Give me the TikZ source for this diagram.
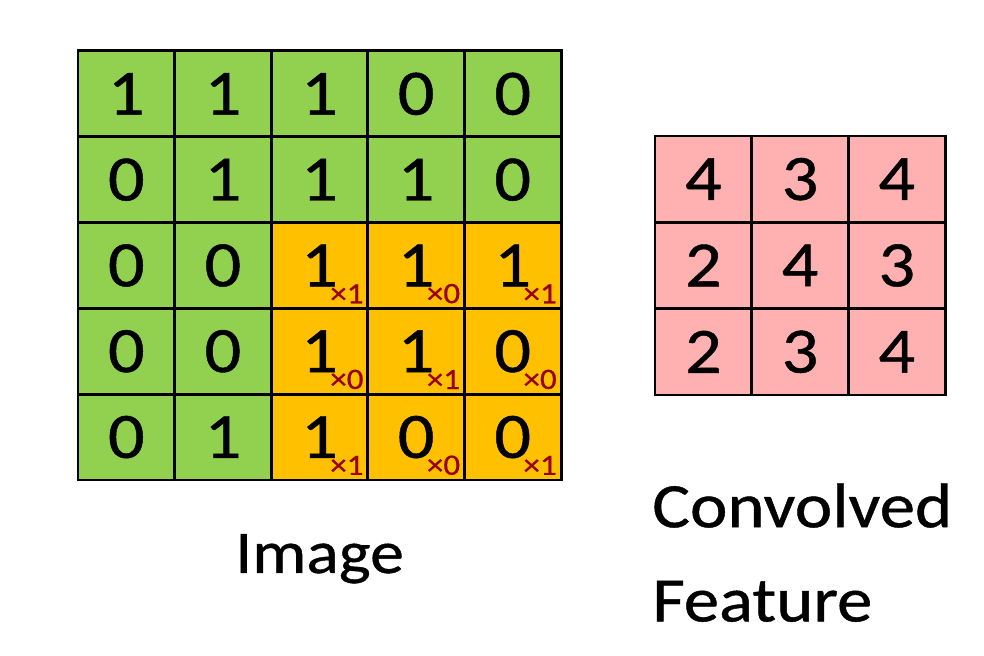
\documentclass[tikz,border=0pt]{standalone}
\usepackage{fontspec}
\setmainfont{Carlito}[FakeStretch=1.12, FakeBold=0.7]
\usepackage{tikz}
\definecolor{imggreen}{HTML}{92D050}
\definecolor{hotorange}{HTML}{FFC000}
\definecolor{featpink}{HTML}{FFB1B1}
\definecolor{weightred}{HTML}{990000}

\begin{document}
\begin{tikzpicture}[
        cellbox/.style={draw=black, line width=2.1pt, outer sep=0pt, inner sep=0pt,
            font=\fontsize{46}{46}\selectfont},
        imgcell/.style={cellbox, fill=imggreen, minimum width=2.415cm, minimum height=2.145cm},
        hotcell/.style={cellbox, fill=hotorange, minimum width=2.415cm, minimum height=2.145cm},
        featcell/.style={cellbox, fill=featpink, minimum width=2.4175cm, minimum height=2.158cm},
        weight/.style={anchor=south east, inner sep=0pt, xshift=-0.1cm, yshift=0.12cm,
            text=weightred, font=\fontsize{21}{21}\selectfont},
        caption/.style={inner sep=0pt, font=\fontsize{43}{43}\selectfont}
    ]
            \useasboundingbox (0, 0) rectangle (24.6, 16.4);
            % image
            \node[imgcell] (c11) at (3.158, 14.053) {1};
            \node[imgcell] (c12) at (5.573, 14.053) {1};
            \node[imgcell] (c13) at (7.988, 14.053) {1};
            \node[imgcell] (c14) at (10.403, 14.053) {0};
            \node[imgcell] (c15) at (12.818, 14.053) {0};
            \node[imgcell] (c21) at (3.158, 11.908) {0};
            \node[imgcell] (c22) at (5.573, 11.908) {1};
            \node[imgcell] (c23) at (7.988, 11.908) {1};
            \node[imgcell] (c24) at (10.403, 11.908) {1};
            \node[imgcell] (c25) at (12.818, 11.908) {0};
            \node[imgcell] (c31) at (3.158, 9.763) {0};
            \node[imgcell] (c32) at (5.573, 9.763) {0};
            \node[hotcell] (c33) at (7.988, 9.763) {1};
            \node[hotcell] (c34) at (10.403, 9.763) {1};
            \node[hotcell] (c35) at (12.818, 9.763) {1};
            \node[imgcell] (c41) at (3.158, 7.618) {0};
            \node[imgcell] (c42) at (5.573, 7.618) {0};
            \node[hotcell] (c43) at (7.988, 7.618) {1};
            \node[hotcell] (c44) at (10.403, 7.618) {1};
            \node[hotcell] (c45) at (12.818, 7.618) {0};
            \node[imgcell] (c51) at (3.158, 5.473) {0};
            \node[imgcell] (c52) at (5.573, 5.473) {1};
            \node[hotcell] (c53) at (7.988, 5.473) {1};
            \node[hotcell] (c54) at (10.403, 5.473) {0};
            \node[hotcell] (c55) at (12.818, 5.473) {0};
            % kernel weights
            \node[weight] (w33) at (c33.south east) {×1};
            \node[weight] (w34) at (c34.south east) {×0};
            \node[weight] (w35) at (c35.south east) {×1};
            \node[weight] (w43) at (c43.south east) {×0};
            \node[weight] (w44) at (c44.south east) {×1};
            \node[weight] (w45) at (c45.south east) {×0};
            \node[weight] (w53) at (c53.south east) {×1};
            \node[weight] (w54) at (c54.south east) {×0};
            \node[weight] (w55) at (c55.south east) {×1};
            % convolved feature
            \node[featcell] (f11) at (17.584, 11.921) {4};
            \node[featcell] (f12) at (20.001, 11.921) {3};
            \node[featcell] (f13) at (22.419, 11.921) {4};
            \node[featcell] (f21) at (17.584, 9.763) {2};
            \node[featcell] (f22) at (20.001, 9.763) {4};
            \node[featcell] (f23) at (22.419, 9.763) {3};
            \node[featcell] (f31) at (17.584, 7.604) {2};
            \node[featcell] (f32) at (20.001, 7.604) {3};
            \node[featcell] (f33) at (22.419, 7.604) {4};
            % captions
            \node[caption, anchor=base] (imglabel) at (7.988, 2.075) {Image};
            \node[caption, anchor=north west, align=left, font=\fontsize{45}{67}\selectfont]
                (featlabel) at (16.3, 4.325) {Convolved\\Feature};
        \end{tikzpicture}
\end{document}
